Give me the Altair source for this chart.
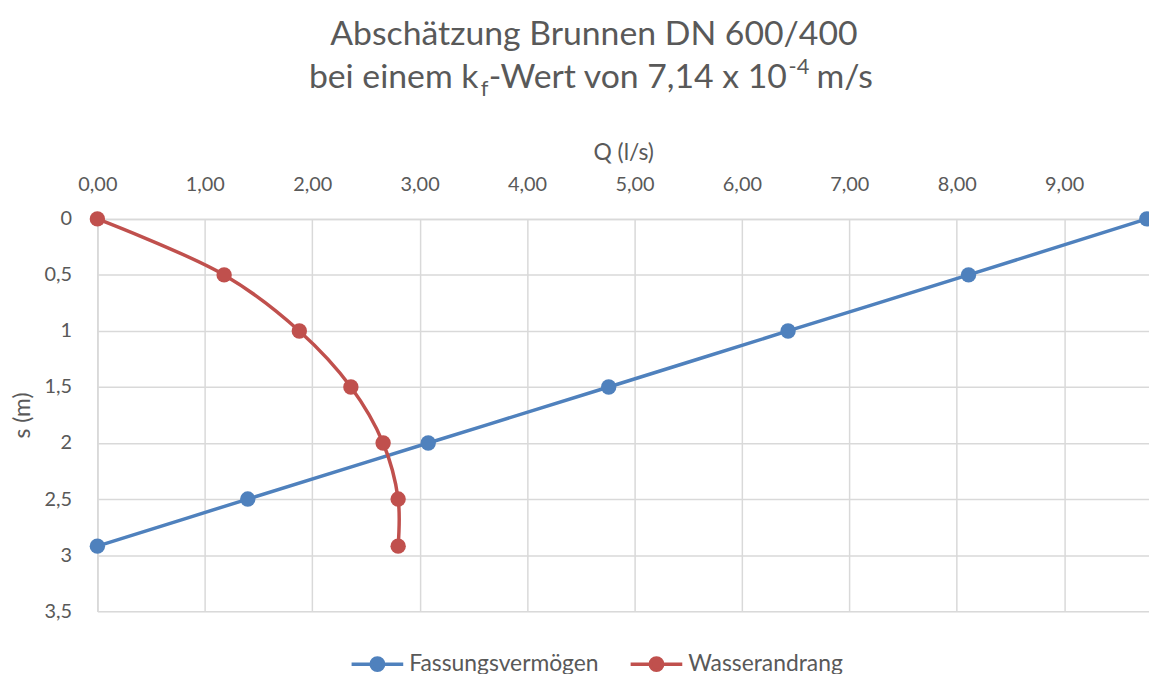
import altair as alt
import pandas as pd

# ---- data ----
s_values = [0, 0.5, 1, 1.5, 2, 2.5, 2.92]
q_fassung = [9.77, 8.11, 6.43, 4.76, 3.08, 1.40, 0.0]
q_andrang = [0.0, 1.18, 1.88, 2.36, 2.66, 2.80, 2.80]
series_names = ["Fassungsvermögen", "Wasserandrang"]
series_colors = ["#4F81BD", "#C0504D"]
x_ticks = [0, 1, 2, 3, 4, 5, 6, 7, 8, 9]
y_ticks = [0, 0.5, 1, 1.5, 2, 2.5, 3, 3.5]

rows = []
for i, s in enumerate(s_values):
    rows.append({"serie": series_names[0], "s": s, "Q": q_fassung[i], "ord": i})
for i, s in enumerate(s_values):
    rows.append({"serie": series_names[1], "s": s, "Q": q_andrang[i], "ord": i})
df = pd.DataFrame(rows)

FONT = "Lato"
GREY = "#595959"
GRID = "#D9D9D9"

# legend symbol: line with a dot in the middle (unit coordinates)
legend_shape = ("M-1,0H-0.24M0.24,0H1"
                "M0.24,0A0.24,0.24,0,1,1,-0.24,0A0.24,0.24,0,1,1,0.24,0Z")

color_scale = alt.Scale(domain=series_names, range=series_colors)

x_enc = alt.X(
    "Q:Q",
    scale=alt.Scale(domain=[0, 9.79], nice=False, zero=False),
    axis=alt.Axis(
        orient="top", values=x_ticks, title="Q (l/s)",
        labelExpr="replace(format(datum.value, '.2f'), '.', ',')",
        grid=True, gridColor=GRID, gridWidth=1.5,
        domainColor=GRID, domainWidth=1.5, ticks=False, tickSize=0,
        labelFlush=False, labelOverlap=False,
        labelPadding=25, labelFontSize=20, labelColor=GREY, labelFont=FONT,
        titleFontSize=23, titleColor=GREY, titleFont=FONT, titleFontWeight="normal",
        titlePadding=10,
    ),
)
y_enc = alt.Y(
    "s:Q",
    scale=alt.Scale(domain=[0, 3.5], reverse=True, nice=False, zero=False),
    axis=alt.Axis(
        values=y_ticks, title="s (m)",
        labelExpr="replace(toString(datum.value), '.', ',')",
        grid=True, gridColor=GRID, gridWidth=1.5,
        domainColor=GRID, domainWidth=1.5, ticks=False, tickSize=0,
        labelFlush=False, labelOverlap=False,
        labelPadding=26, labelFontSize=20, labelColor=GREY, labelFont=FONT,
        titleFontSize=23, titleColor=GREY, titleFont=FONT, titleFontWeight="normal",
        titlePadding=10,
    ),
)

color_enc = alt.Color(
    "serie:N", scale=color_scale,
    legend=alt.Legend(
        title=None, orient="none", direction="horizontal",
        legendX=254, legendY=420,
        symbolType=legend_shape, symbolSize=2704, symbolStrokeWidth=3.5,
        labelFontSize=23, labelColor=GREY, labelFont=FONT, labelLimit=400,
        labelOffset=4, columnPadding=25,
    ),
)

base = alt.Chart(df)

lines = base.mark_line(strokeWidth=3.5, interpolate="catmull-rom").encode(
    x=x_enc, y=y_enc, color=color_enc, order="ord:Q", detail="serie:N"
)
points = base.mark_point(filled=True, size=240, opacity=1).encode(
    x="Q:Q", y="s:Q", color=alt.Color("serie:N", scale=color_scale, legend=None)
)

# title pieces (pixel positions relative to plot origin)
def txt(t, x, y, size, align="left"):
    return alt.Chart(pd.DataFrame({"t": [t]})).mark_text(
        font=FONT, fontSize=size, color=GREY, align=align, baseline="alphabetic"
    ).encode(text="t:N", x=alt.value(x), y=alt.value(y))

title1 = txt("Abschätzung Brunnen DN 600/400", 500, -175, 34, "center")
t2a = txt("bei einem k", 213, -132, 34, "left")
t2b = txt("f", 386, -124, 22, "left")
t2c = txt("-Wert von 7,14 x 10", 394, -132, 34, "left")
t2d = txt("-4", 696, -146, 22, "left")
t2e = txt("m/s", 781, -132, 34, "right")

chart = alt.layer(lines, points, title1, t2a, t2b, t2c, t2d, t2e).properties(
    width=1059, height=395,
    autosize=alt.AutoSizeParams(type="none"),
    padding={"left": 90, "top": 210, "right": 0, "bottom": 70},
).configure_view(stroke=None).configure(background="white")

chart.save("out.html", embed_options={"renderer": "svg", "actions": False})
